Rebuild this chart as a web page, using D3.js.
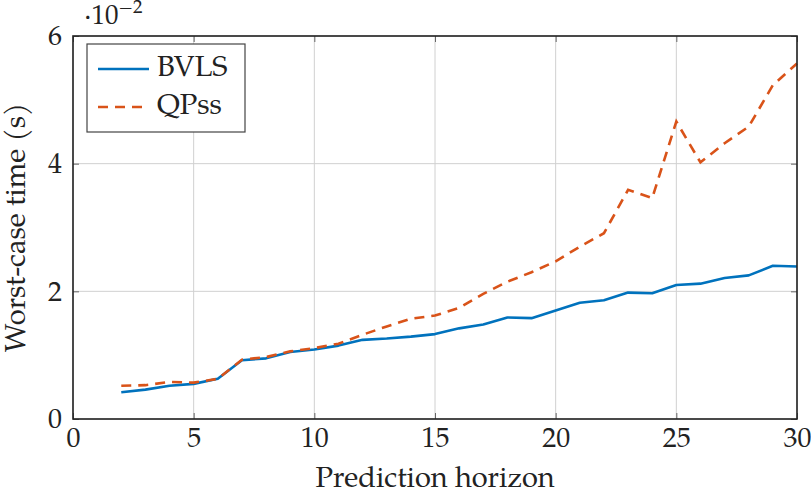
<!DOCTYPE html>
<html><head><meta charset="utf-8">
<script src="https://cdn.jsdelivr.net/npm/d3@7"></script>
<style>body{margin:0;background:#fff}svg{display:block}text{font-family:"TeX Gyre Pagella","Palatino Linotype","Liberation Serif","DejaVu Serif",serif;fill:#222}</style>
</head><body><svg id="c" width="811" height="495"></svg>
<script>
const horizon = [2,3,4,5,6,7,8,9,10,11,12,13,14,15,16,17,18,19,20,21,22,23,24,25,26,27,28,29,30];
const bvls = [0.42,0.46,0.52,0.55,0.63,0.92,0.95,1.05,1.09,1.15,1.24,1.26,1.29,1.33,1.42,1.48,1.59,1.58,1.70,1.82,1.86,1.98,1.97,2.10,2.12,2.21,2.25,2.40,2.39];
const qpss = [0.52,0.53,0.58,0.57,0.63,0.93,0.97,1.06,1.11,1.18,1.32,1.45,1.57,1.62,1.74,1.96,2.15,2.30,2.47,2.70,2.91,3.59,3.46,4.66,4.02,4.32,4.58,5.23,5.57];
const xTicks = [0,5,10,15,20,25,30];
const yTicks = [0,2,4,6];
const seriesNames = ["BVLS","QPss"];
const colors = ["#0072BD","#D95319"];

const svg = d3.select("#c");
const m = {l:73, r:797, t:36, b:419};
const x = d3.scaleLinear().domain([0,30]).range([m.l,m.r]);
const y = d3.scaleLinear().domain([0,6]).range([m.b,m.t]);

// grid
const g = svg.append("g");
g.selectAll(".gx").data(xTicks).join("line").attr("x1",d=>x(d)).attr("x2",d=>x(d)).attr("y1",m.t).attr("y2",m.b).attr("stroke","#d0d0d0").attr("stroke-width",1);
g.selectAll(".gy").data(yTicks).join("line").attr("y1",d=>y(d)).attr("y2",d=>y(d)).attr("x1",m.l).attr("x2",m.r).attr("stroke","#d0d0d0").attr("stroke-width",1);

// axes with inward ticks
const ax = (gen, tr) => svg.append("g").attr("transform",tr).call(gen).call(s=>{s.select(".domain").remove();s.selectAll("line").attr("stroke","#666");});
ax(d3.axisBottom(x).tickValues(xTicks).tickSize(-6).tickPadding(8).tickFormat(d3.format("d")), `translate(0,${m.b})`);
ax(d3.axisTop(x).tickValues(xTicks).tickSize(-6).tickFormat(""), `translate(0,${m.t})`);
ax(d3.axisLeft(y).tickValues(yTicks).tickSize(-6).tickPadding(11).tickFormat(d3.format("d")), `translate(${m.l},0)`);
ax(d3.axisRight(y).tickValues(yTicks).tickSize(-6).tickFormat(""), `translate(${m.r},0)`);
svg.selectAll(".tick text").attr("font-family",null).attr("font-size",28).style("fill","#222");

// lines
const line = d3.line().x((d,i)=>x(horizon[i])).y(d=>y(d));
svg.append("path").datum(bvls).attr("d",line).attr("fill","none").attr("stroke",colors[0]).attr("stroke-width",2.6).attr("stroke-linejoin","round");
svg.append("path").datum(qpss).attr("d",line).attr("fill","none").attr("stroke",colors[1]).attr("stroke-width",2.6).attr("stroke-dasharray","10,7");

// frame
svg.append("rect").attr("x",m.l).attr("y",m.t).attr("width",m.r-m.l).attr("height",m.b-m.t).attr("fill","none").attr("stroke","#222").attr("stroke-width",1.6);

// legend
const lg = svg.append("g");
lg.append("rect").attr("x",87).attr("y",44).attr("width",158).attr("height",88).attr("fill","#fff").attr("stroke","#444").attr("stroke-width",1.2);
seriesNames.forEach((n,i)=>{
  const yy = 69 + i*38;
  lg.append("line").attr("x1",98).attr("x2",149).attr("y1",yy).attr("y2",yy).attr("stroke",colors[i]).attr("stroke-width",2.6).attr("stroke-dasharray",i?"10,7":null);
  lg.append("text").attr("x",157).attr("y",yy+7).attr("font-size",29).text(n);
});

// exponent
const ex = svg.append("text").attr("x",84).attr("y",24).attr("font-size",27);
ex.append("tspan").text("·10");
ex.append("tspan").attr("dy",-11).attr("font-size",19).text("−2");

// axis labels
svg.append("text").attr("x",(m.l+m.r)/2).attr("y",487).attr("text-anchor","middle").attr("font-size",29).text("Prediction horizon");
svg.append("text").attr("transform",`translate(25,${(m.t+m.b)/2}) rotate(-90)`).attr("text-anchor","middle").attr("font-size",29).text("Worst-case time (s)");
</script></body></html>
